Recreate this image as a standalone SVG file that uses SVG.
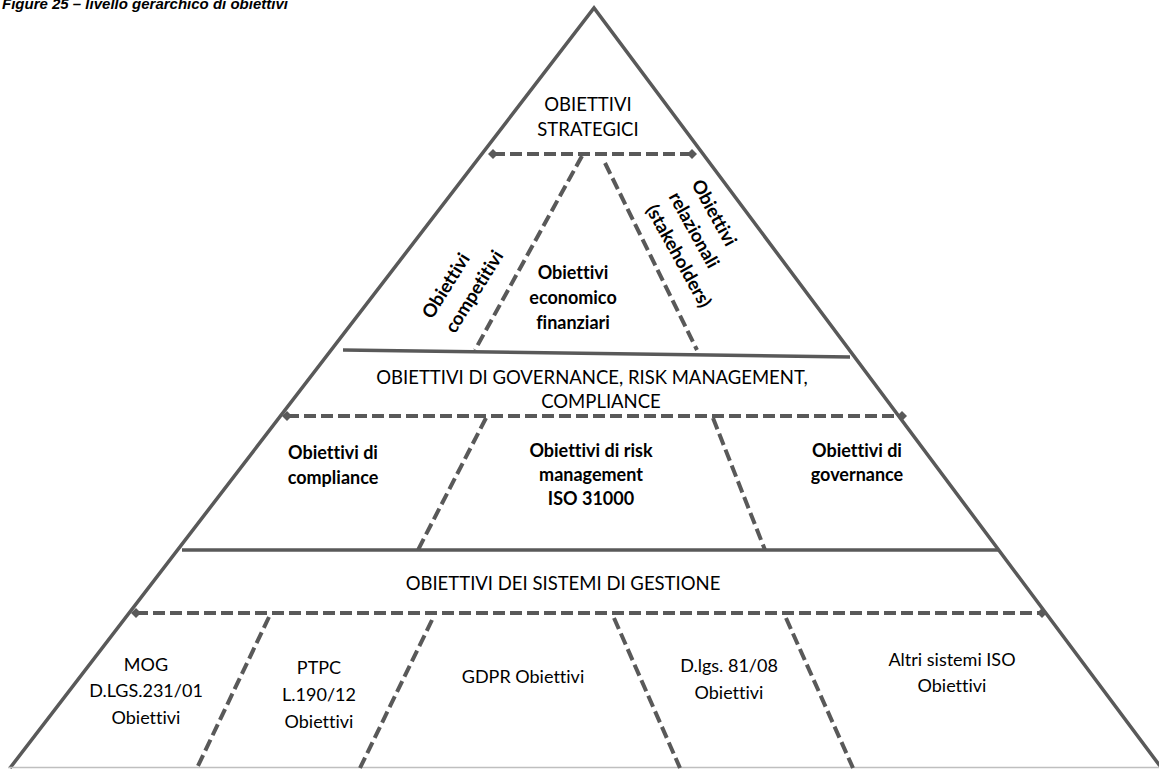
<svg xmlns="http://www.w3.org/2000/svg" width="1159" height="769" viewBox="0 0 1159 769">
<style>
.edge{fill:none;stroke:#595959;stroke-width:3.5;stroke-linejoin:miter}
.solid{fill:none;stroke:#595959;stroke-width:3.5}
.dash{fill:none;stroke:#595959;stroke-width:4;stroke-dasharray:12 5}
.dm{fill:none;stroke:#595959;stroke-width:4;stroke-dasharray:12 5;marker-start:url(#dia);marker-end:url(#dia)}
text{font-variant-ligatures:none}
.t{font-family:Lato,"Liberation Sans",sans-serif;font-size:18px;fill:#000;text-anchor:middle}
.u{font-family:Lato,"Liberation Sans",sans-serif;font-size:18.5px;fill:#000;text-anchor:middle}
.b{font-family:Lato,"Liberation Sans",sans-serif;font-size:18px;font-weight:bold;fill:#000;text-anchor:middle}
.bs{font-family:Lato,"Liberation Sans",sans-serif;font-size:18.5px;font-weight:bold;fill:#000;text-anchor:start}
.cap{font-family:"Liberation Sans",sans-serif;font-size:15px;font-weight:bold;font-style:italic;fill:#000}
</style>
<defs>
<marker id="dia" viewBox="-6 -6 12 12" markerWidth="12" markerHeight="12" markerUnits="userSpaceOnUse" orient="auto">
<path d="M-5,0 L0,-5 L5,0 L0,5 Z" fill="#595959"/>
</marker>
</defs>
<rect width="1159" height="769" fill="#fff"/>
<text class="cap" x="2" y="9">Figure 25 – livello gerarchico di obiettivi</text>
<g id="pyramid">
<polyline class="edge" points="10,768 594,8 1160,766"/>
<line x1="8" y1="767.5" x2="1159" y2="767.5" stroke="#bfbfbf" stroke-width="1.5"/>
</g>
<g id="connectors">
<line class="dm" x1="493" y1="154" x2="692" y2="154"/>
<line class="dash" x1="582" y1="156" x2="475" y2="350"/>
<line class="dash" x1="605" y1="163" x2="697" y2="350"/>
<line class="solid" x1="343" y1="350" x2="850" y2="357"/>
<line class="dm" x1="287" y1="416" x2="902" y2="416"/>
<line class="dash" x1="486" y1="418" x2="418" y2="550"/>
<line class="dash" x1="713" y1="418" x2="765" y2="550"/>
<line class="solid" x1="182" y1="550" x2="999" y2="550"/>
<line class="dm" x1="136" y1="613" x2="1042" y2="613"/>
<line class="dash" x1="269" y1="617" x2="197" y2="768"/>
<line class="dash" x1="432" y1="620" x2="360" y2="768"/>
<line class="dash" x1="614" y1="618" x2="680" y2="768"/>
<line class="dash" x1="786" y1="618" x2="853" y2="768"/>
</g>
<g id="strategici">
<text class="u" x="588" y="111">OBIETTIVI</text>
<text class="u" x="588" y="136">STRATEGICI</text>
</g>
<g id="competitivi" transform="translate(432,320) rotate(-58)">
<text class="bs" x="0" y="0">Obiettivi</text>
<text class="bs" x="0" y="27">competitivi</text>
</g>
<g id="economico">
<text class="b" x="573" y="279">Obiettivi</text>
<text class="b" x="573" y="304">economico</text>
<text class="b" x="573" y="329">finanziari</text>
</g>
<g id="relazionali" transform="translate(691,184) rotate(61)">
<text class="bs" x="0" y="0">Obiettivi</text>
<text class="bs" x="0" y="26">relazionali</text>
<text class="bs" x="0" y="52">(stakeholders)</text>
</g>
<g id="governance-title">
<text class="u" x="592" y="384">OBIETTIVI DI GOVERNANCE, RISK MANAGEMENT,</text>
<text class="u" x="601" y="408">COMPLIANCE</text>
</g>
<g id="compliance">
<text class="b" x="333" y="459">Obiettivi di</text>
<text class="b" x="333" y="484">compliance</text>
</g>
<g id="risk">
<text class="b" x="591" y="457">Obiettivi di risk</text>
<text class="b" x="591" y="481">management</text>
<text class="b" x="591" y="505">ISO 31000</text>
</g>
<g id="governance">
<text class="b" x="857" y="457">Obiettivi di</text>
<text class="b" x="857" y="481">governance</text>
</g>
<g id="sistemi-title">
<text class="u" x="563" y="590">OBIETTIVI DEI SISTEMI DI GESTIONE</text>
</g>
<g id="mog">
<text class="t" x="146" y="671">MOG</text>
<text class="t" x="146" y="697">D.LGS.231/01</text>
<text class="t" x="146" y="724">Obiettivi</text>
</g>
<g id="ptpc">
<text class="t" x="319" y="674">PTPC</text>
<text class="t" x="319" y="701">L.190/12</text>
<text class="t" x="319" y="728">Obiettivi</text>
</g>
<g id="gdpr">
<text class="t" x="523" y="683">GDPR Obiettivi</text>
</g>
<g id="dlgs">
<text class="t" x="729" y="672">D.lgs. 81/08</text>
<text class="t" x="729" y="699">Obiettivi</text>
</g>
<g id="altri">
<text class="t" x="952" y="666">Altri sistemi ISO</text>
<text class="t" x="952" y="692">Obiettivi</text>
</g>
</svg>
